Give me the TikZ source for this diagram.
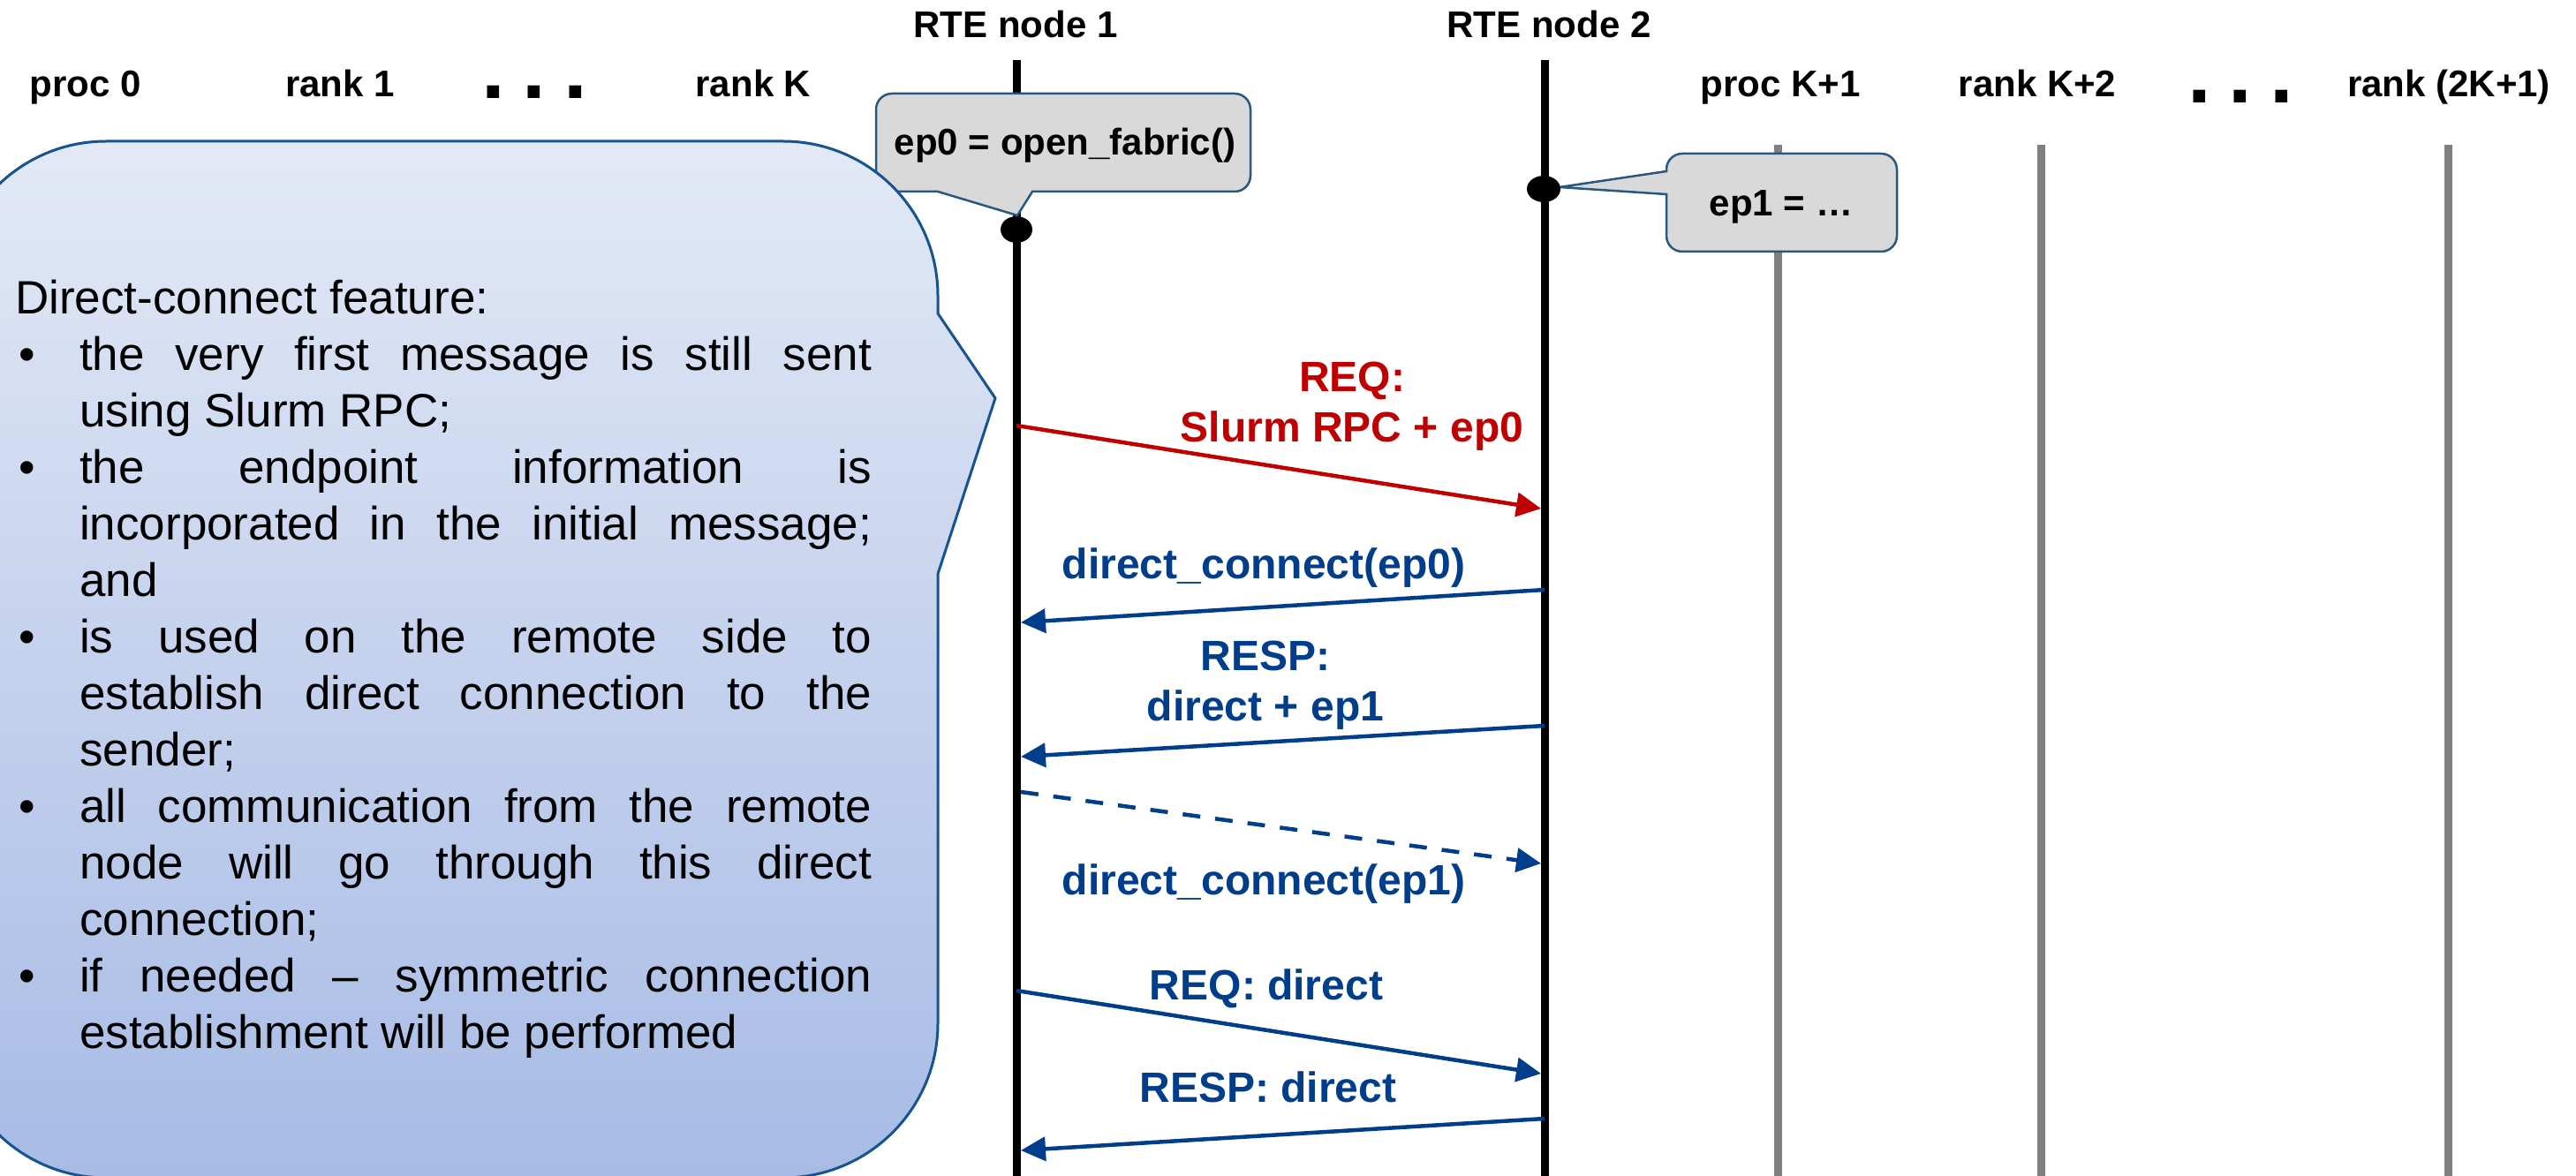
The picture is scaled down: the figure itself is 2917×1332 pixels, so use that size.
\documentclass[tikz,border=0pt]{standalone}
\usepackage{fontspec}
\setmainfont{Liberation Sans}
\usetikzlibrary{arrows.meta}

\definecolor{msgred}{RGB}{192,0,0}
\definecolor{msgblue}{RGB}{0,61,139}
\definecolor{lifegray}{RGB}{128,128,128}
\definecolor{notefill}{RGB}{217,217,217}
\definecolor{noteedge}{RGB}{40,88,128}
\definecolor{bigedge}{RGB}{22,84,145}
\definecolor{bigtop}{RGB}{227,233,246}
\definecolor{bigbottom}{RGB}{167,187,229}

% helpers for the justified bullet list
\newcommand\featbullet{\makebox[73pt][l]{\hspace{4pt}\textbullet}}
\newcommand\featindent{\hspace*{73pt}}
\newcommand\featjust[1]{\makebox[897pt][s]{#1}}

\tikzset{
  hdr/.style={font=\fontsize{42}{50}\selectfont\bfseries, inner sep=0pt, anchor=base},
  msg/.style={font=\fontsize{48}{57}\selectfont\bfseries, inner sep=0pt},
  notetext/.style={font=\fontsize{42}{50}\selectfont\bfseries, inner sep=0pt, anchor=base},
  bodytext/.style={font=\fontsize{53}{64}\selectfont, inner sep=0pt, align=left, anchor=north west},
  rteline/.style={line width=9pt, black},
  procline/.style={line width=9pt, lifegray},
  msgarrow/.style={line width=4.5pt, -{Triangle[length=28pt,width=27pt]}},
  notebox/.style={fill=notefill, draw=noteedge, line width=2.5pt, line join=miter},
  bignote/.style={top color=bigtop, bottom color=bigbottom, draw=bigedge, line width=3pt, line join=miter},
  dots/.style={font=\fontsize{96}{96}\selectfont\bfseries, inner sep=0pt, anchor=base west},
}

\begin{document}
\begin{tikzpicture}[x=1pt,y=-1pt]
\clip (0,0) rectangle (2917,1332);
\fill[white] (0,0) rectangle (2917,1332);

% process headers
\node[hdr] (p0)   at (97,110)   {proc 0};
\node[hdr] (rk1)  at (385,110)  {rank 1};
\node[dots] (dl)  at (545,112)  {.\hspace{20pt}.\hspace{20pt}.};
\node[hdr] (rkK)  at (853,110)  {rank K};
\node[hdr] (rte1) at (1150,43)  {RTE node 1};
\node[hdr] (rte2) at (1754,43)  {RTE node 2};
\node[hdr] (pK1)  at (2016,110) {proc K+1};
\node[hdr] (rK2)  at (2307,110) {rank K+2};
\node[dots] (dr)  at (2477,117) {.\hspace{20pt}.\hspace{20pt}.};
\node[hdr] (r2K)  at (2773,110) {rank (2K+1)};

% lifelines
\coordinate (n1top) at (1151,68);   \coordinate (n1bot) at (1151,1332);
\coordinate (n2top) at (1749,68);   \coordinate (n2bot) at (1749,1332);
\coordinate (g1top) at (2013,164);  \coordinate (g1bot) at (2013,1332);
\coordinate (g2top) at (2311,164);  \coordinate (g2bot) at (2311,1332);
\coordinate (g3top) at (2772,164);  \coordinate (g3bot) at (2772,1332);
\draw[rteline] (n1top) -- (n1bot);
\draw[rteline] (n2top) -- (n2bot);
\draw[procline] (g1top) -- (g1bot);
\draw[procline] (g2top) -- (g2bot);
\draw[procline] (g3top) -- (g3bot);

% endpoint callouts
\draw[notebox] (1010,106) -- (1398,106) .. controls (1408,106) and (1416,114) .. (1416,124)
  -- (1416,199) .. controls (1416,209) and (1408,217) .. (1398,217)
  -- (1169,217) -- (1152,244) -- (1062,217)
  -- (1010,217) .. controls (1000,217) and (992,209) .. (992,199)
  -- (992,124) .. controls (992,114) and (1000,106) .. (1010,106) -- cycle;
\node[notetext] (ep0) at (1206,176) {ep0 = open\_fabric()};

\draw[notebox] (1905,174) -- (2130,174) .. controls (2140,174) and (2148,182) .. (2148,192)
  -- (2148,267) .. controls (2148,277) and (2140,285) .. (2130,285)
  -- (1905,285) .. controls (1895,285) and (1887,277) .. (1887,267)
  -- (1887,220) -- (1766,212) -- (1887,194)
  -- (1887,192) .. controls (1887,182) and (1895,174) .. (1905,174) -- cycle;
\node[notetext] (ep1) at (2017,245) {ep1 = …};

% markers where the endpoints are opened
\fill[black] (1151,260) ellipse [x radius=18pt, y radius=15pt];
\fill[black] (1748,214) ellipse [x radius=19pt, y radius=15pt];

% explanation callout
\draw[bignote] (120,160) -- (887,160) .. controls (983.6,160) and (1062,238.4) .. (1062,335)
  -- (1062,355) -- (1127,451) -- (1062,650)
  -- (1062,1159) .. controls (1062,1255.6) and (983.6,1334) .. (887,1334)
  -- (120,1334) .. controls (23.4,1334) and (-55,1255.6) .. (-55,1159)
  -- (-55,335) .. controls (-55,238.4) and (23.4,160) .. (120,160) -- cycle;
\node[bodytext] (feat) at (17,310) {\strut Direct-connect feature:\\
  \featbullet\featjust{the very first message is still sent}\\
  \featindent using Slurm RPC;\\
  \featbullet\featjust{the endpoint information is}\\
  \featindent\featjust{incorporated in the initial message;}\\
  \featindent and\\
  \featbullet\featjust{is used on the remote side to}\\
  \featindent\featjust{establish direct connection to the}\\
  \featindent sender;\\
  \featbullet\featjust{all communication from the remote}\\
  \featindent\featjust{node will go through this direct}\\
  \featindent connection;\\
  \featbullet\featjust{if needed – symmetric connection}\\
  \featindent establishment will be performed};

% message anchors on the lifelines
\coordinate (m1s) at (1151,482);  \coordinate (m1e) at (1745,576);
\coordinate (m2s) at (1749,668);  \coordinate (m2e) at (1156,705);
\coordinate (m3s) at (1749,822);  \coordinate (m3e) at (1156,857);
\coordinate (m4s) at (1156,897);  \coordinate (m4e) at (1745,978);
\coordinate (m5s) at (1151,1122); \coordinate (m5e) at (1745,1216);
\coordinate (m6s) at (1749,1267); \coordinate (m6e) at (1156,1303);

% messages
\draw[msgarrow, msgred]  (m1s) -- (m1e);
\draw[msgarrow, msgblue] (m2s) -- (m2e);
\draw[msgarrow, msgblue] (m3s) -- (m3e);
\draw[msgarrow, msgblue, dash pattern=on 20pt off 17pt] (m4s) -- (m4e);
\draw[msgarrow, msgblue] (m5s) -- (m5e);
\draw[msgarrow, msgblue] (m6s) -- (m6e);

% message labels
\node[msg, text=msgred, align=center, anchor=north] (l1) at (1531,403) {\strut REQ:\\Slurm RPC + ep0};
\node[msg, text=msgblue, anchor=base] (l2) at (1431,655) {direct\_connect(ep0)};
\node[msg, text=msgblue, align=center, anchor=north] (l3) at (1433,719) {\strut RESP:\\direct + ep1};
\node[msg, text=msgblue, anchor=base] (l4) at (1431,1013) {direct\_connect(ep1)};
\node[msg, text=msgblue, anchor=base] (l5) at (1434,1132) {REQ: direct};
\node[msg, text=msgblue, anchor=base] (l6) at (1436,1248) {RESP: direct};
\end{tikzpicture}
\end{document}
